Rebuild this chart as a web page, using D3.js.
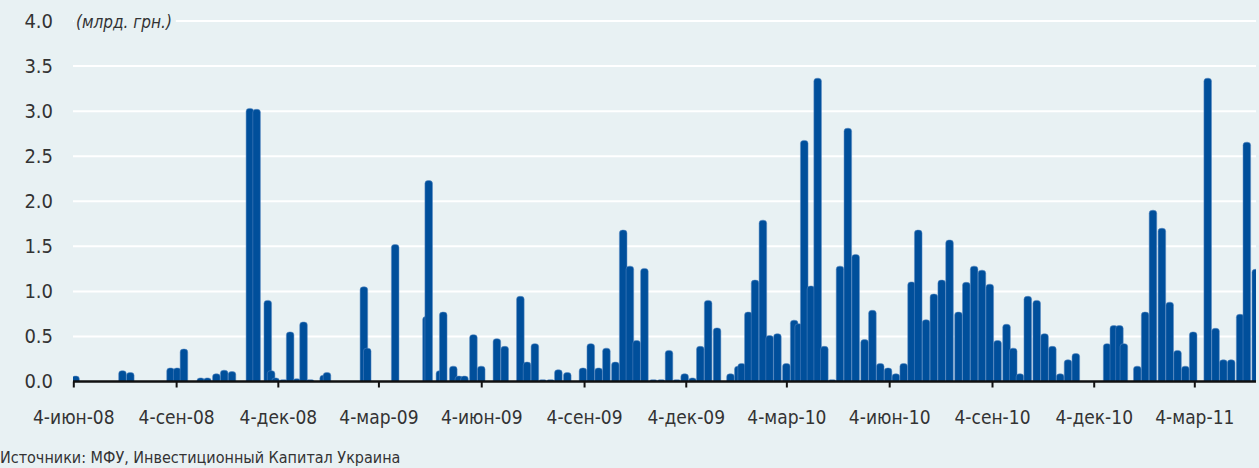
<!DOCTYPE html>
<html>
<head>
<meta charset="utf-8">
<script src="https://cdn.jsdelivr.net/npm/d3@7"></script>
<style>
  html, body { margin: 0; padding: 0; background: #e8f1f3; }
  svg { display: block; }
  text { font-family: "Liberation Sans Narrow", "DejaVu Sans Condensed", "DejaVu Sans", sans-serif; fill: #333; }
</style>
</head>
<body>
<svg id="chart" width="1259" height="468"></svg>
<script>
// auction dates and volumes (bn UAH)
const dates = [
  '2008-06-06', '2008-07-18', '2008-07-25', '2008-08-30', '2008-09-05', '2008-09-11',
  '2008-09-26', '2008-10-02', '2008-10-10', '2008-10-17', '2008-10-24', '2008-11-09',
  '2008-11-15', '2008-11-25', '2008-11-28', '2008-12-02', '2008-12-09', '2008-12-15',
  '2008-12-21', '2008-12-27', '2009-01-02', '2009-01-14', '2009-01-17', '2009-02-19',
  '2009-02-22', '2009-03-19', '2009-04-16', '2009-04-18', '2009-04-28', '2009-05-01',
  '2009-05-10', '2009-05-15', '2009-05-20', '2009-05-28', '2009-06-04', '2009-06-18',
  '2009-06-25', '2009-07-09', '2009-07-15', '2009-07-22', '2009-07-29', '2009-08-05',
  '2009-08-12', '2009-08-20', '2009-09-03', '2009-09-10', '2009-09-17', '2009-09-24',
  '2009-10-02', '2009-10-09', '2009-10-15', '2009-10-21', '2009-10-28', '2009-11-05',
  '2009-11-12', '2009-11-19', '2009-11-26', '2009-12-03', '2009-12-10', '2009-12-17',
  '2009-12-24', '2010-01-01', '2010-01-13', '2010-01-20', '2010-01-23', '2010-01-29',
  '2010-02-04', '2010-02-11', '2010-02-17', '2010-02-24', '2010-03-04', '2010-03-11',
  '2010-03-15', '2010-03-20', '2010-03-26', '2010-04-01', '2010-04-07', '2010-04-14',
  '2010-04-21', '2010-04-28', '2010-05-05', '2010-05-13', '2010-05-20', '2010-05-27',
  '2010-06-03', '2010-06-10', '2010-06-17', '2010-06-24', '2010-06-30', '2010-07-07',
  '2010-07-14', '2010-07-21', '2010-07-28', '2010-08-05', '2010-08-12', '2010-08-19',
  '2010-08-26', '2010-09-02', '2010-09-09', '2010-09-17', '2010-09-23', '2010-09-29',
  '2010-10-06', '2010-10-14', '2010-10-21', '2010-10-28', '2010-11-04', '2010-11-11',
  '2010-11-18', '2010-12-16', '2010-12-22', '2010-12-27', '2010-12-31', '2011-01-12',
  '2011-01-19', '2011-01-26', '2011-02-03', '2011-02-10', '2011-02-17', '2011-02-24',
  '2011-03-03', '2011-03-16', '2011-03-23', '2011-03-30', '2011-04-06', '2011-04-14',
  '2011-04-20', '2011-04-28'
];
const values = [
  0.06, 0.12, 0.10, 0.15, 0.15, 0.36,
  0.04, 0.04, 0.085, 0.125, 0.11, 3.03,
  3.02, 0.90, 0.12, 0.04, 0.02, 0.55,
  0.03, 0.66, 0.02, 0.07, 0.10, 1.05,
  0.37, 1.52, 0.72, 2.23, 0.12, 0.77,
  0.17, 0.06, 0.06, 0.52, 0.17, 0.475,
  0.39, 0.945, 0.215, 0.42, 0.02, 0.02,
  0.13, 0.10, 0.15, 0.42, 0.15, 0.37,
  0.215, 1.68, 1.28, 0.455, 1.255, 0.02,
  0.02, 0.345, 0.02, 0.085, 0.04, 0.39,
  0.90, 0.595, 0.085, 0.17, 0.20, 0.77,
  1.125, 1.79, 0.51, 0.53, 0.20, 0.68,
  0.64, 2.675, 1.06, 3.365, 0.39, 0.02,
  1.28, 2.81, 1.41, 0.465, 0.79, 0.20,
  0.15, 0.085, 0.20, 1.105, 1.68, 0.685,
  0.97, 1.125, 1.57, 0.77, 1.10, 1.28,
  1.235, 1.08, 0.455, 0.635, 0.37, 0.085,
  0.945, 0.90, 0.53, 0.39, 0.085, 0.24,
  0.31, 0.42, 0.62, 0.62, 0.42, 0.17,
  0.77, 1.90, 1.70, 0.88, 0.345, 0.17,
  0.55, 3.365, 0.59, 0.24, 0.24, 0.745,
  2.655, 1.245
];
const tickDates = [
  '2008-06-04', '2008-09-04', '2008-12-04', '2009-03-04', '2009-06-04', '2009-09-04',
  '2009-12-04', '2010-03-04', '2010-06-04', '2010-09-04', '2010-12-04', '2011-03-04'
];
const monthsRu = ['янв', 'фев', 'мар', 'апр', 'май', 'июн', 'июл', 'авг', 'сен', 'окт', 'ноя', 'дек'];
const yTicks = [0, 0.5, 1, 1.5, 2, 2.5, 3, 3.5, 4];
const unitLabel = '(млрд. грн.)';
const sourceLabel = 'Источники: МФУ, Инвестиционный Капитал Украина';

const width = 1259,
  height = 468,
  margins = { left: 73, right: 3, top: 21, bottom: 86.5 };

const parseTime = d3.timeParse('%Y-%m-%d');
const data = dates.map((d, i) => ({ date: parseTime(d), value: values[i] }));

const svg = d3.select('#chart');

// the axis is anchored on its first and last labelled dates
const xScale = d3
  .scaleTime()
  .domain([parseTime(tickDates[0]), parseTime(tickDates[tickDates.length - 1])])
  .range([73.3, 1194.3]);
const yScale = d3
  .scaleLinear()
  .domain([0, 4])
  .range([height - margins.bottom, margins.top]);

const plotRight = width - margins.right;

svg.append('rect').attr('width', width).attr('height', height).attr('fill', '#e8f1f3');

// white gridlines
svg
  .append('g')
  .selectAll('line')
  .data(yTicks.slice(1))
  .join('line')
  .attr('x1', margins.left)
  .attr('x2', plotRight)
  .attr('y1', d => yScale(d))
  .attr('y2', d => yScale(d))
  .attr('stroke', '#fff')
  .attr('stroke-width', 2);

// y labels
const yAxis = d3
  .axisLeft(yScale)
  .tickValues(yTicks)
  .tickFormat(d3.format('.1f'))
  .tickSize(0)
  .tickPadding(0);
const gy = svg.append('g').attr('transform', 'translate(53,0)').call(yAxis);
gy.select('.domain').remove();
gy.selectAll('text').attr('font-size', 20).attr('fill', '#333').style('font-family', null);

// unit label sits over the top gridline
const unitG = svg.append('g');
const unit = unitG
  .append('text')
  .attr('x', 76)
  .attr('y', yScale(4) + 7)
  .attr('font-size', 17)
  .attr('font-style', 'italic')
  .text(unitLabel);
const ub = unit.node().getBBox();
unitG
  .insert('rect', 'text')
  .attr('x', ub.x - 2)
  .attr('y', ub.y)
  .attr('width', ub.width + 6)
  .attr('height', ub.height)
  .attr('fill', '#e8f1f3');

// bars with rounded tops
svg
  .append('clipPath')
  .attr('id', 'plot-clip')
  .append('rect')
  .attr('x', margins.left)
  .attr('y', 0)
  .attr('width', plotRight - margins.left)
  .attr('height', height);

function barPath(d) {
  const cx = xScale(d.date),
    half = 3.8,
    x0 = cx - half,
    x1 = cx + half,
    y0 = yScale(0),
    yt = yScale(d.value),
    r = Math.min(3, y0 - yt);
  return `M${x0},${y0}V${yt + r}Q${x0},${yt} ${x0 + r},${yt}H${x1 - r}Q${x1},${yt} ${x1},${yt + r}V${y0}Z`;
}

svg
  .append('g')
  .attr('clip-path', 'url(#plot-clip)')
  .selectAll('path')
  .data(data)
  .join('path')
  .attr('d', barPath)
  .attr('fill', '#004f9b')
  .attr('stroke', '#5d8cc4')
  .attr('stroke-width', 0.5);

// x axis
const xAxis = d3
  .axisBottom(xScale)
  .tickValues(tickDates.map(parseTime))
  .tickFormat(d => `${d.getDate()}-${monthsRu[d.getMonth()]}-${d3.timeFormat('%y')(d)}`)
  .tickSize(6)
  .tickSizeOuter(0)
  .tickPadding(23);
const gx = svg
  .append('g')
  .attr('transform', 'translate(0,' + yScale(0) + ')')
  .call(xAxis);
gx.select('.domain')
  .attr('d', `M${margins.left},0H${plotRight}`)
  .attr('stroke', '#111')
  .attr('stroke-width', 2.5);
gx.selectAll('.tick line').attr('stroke', '#111').attr('stroke-width', 2);
gx.selectAll('text').attr('font-size', 19).attr('fill', '#333').style('font-family', null);

svg
  .append('text')
  .attr('x', 0)
  .attr('y', 463)
  .attr('font-size', 16)
  .text(sourceLabel);
</script>
</body>
</html>
